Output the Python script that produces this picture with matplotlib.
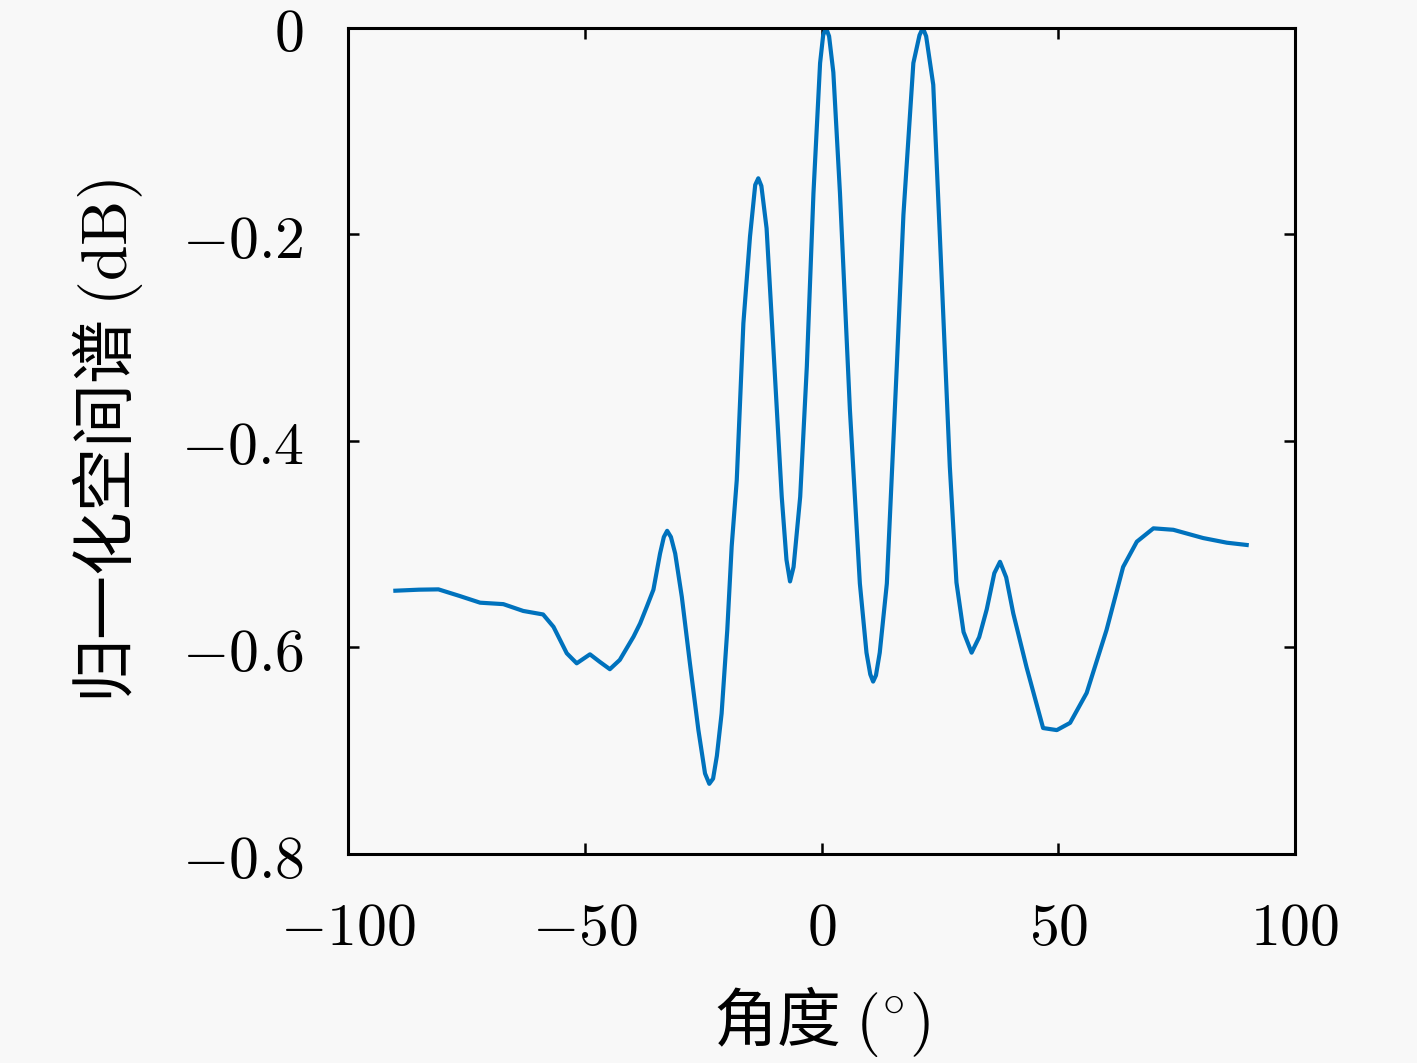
import numpy as np
import matplotlib
matplotlib.use('Agg')
import matplotlib.pyplot as plt
from matplotlib.ticker import FixedLocator, FuncFormatter

plt.rcParams['font.family'] = ['Noto Sans CJK SC', 'DejaVu Sans']
plt.rcParams['mathtext.fontset'] = 'cm'

# ========== 数据 ==========
angle = [-90.0, -85.0, -80.9, -76.5, -72.1, -67.2, -63.0, -58.8, -56.6, -53.8,
         -51.7, -48.9, -46.8, -44.7, -42.6, -39.7, -38.3, -36.9, -35.5, -34.1,
         -33.3, -32.6, -31.8, -30.9, -29.5, -27.8, -26.0, -24.6, -23.7, -22.9,
         -22.1, -21.1, -19.9, -18.97, -17.9, -16.5, -15.1, -14.0, -13.35, -12.7,
         -11.6, -10.2, -8.4, -7.4, -6.65, -5.9, -4.5, -3.1, -1.7, -0.3,
         0.35, 0.95, 1.6, 2.5, 3.9, 6.0, 8.1, 9.5, 10.3, 10.9,
         11.5, 12.3, 13.8, 15.9, 17.3, 19.4, 20.7, 21.4, 22.1, 23.6,
         25.0, 27.1, 28.5, 30.0, 31.7, 33.3, 34.9, 36.5, 37.7, 39.0,
         40.5, 43.3, 46.8, 49.7, 52.5, 56.0, 60.2, 63.7, 66.6, 70.1,
         74.3, 80.6, 85.6, 89.8]
spectrum = [-0.545, -0.544, -0.5437, -0.550, -0.5566, -0.558, -0.5646, -0.568, -0.580, -0.6056,
            -0.6153, -0.6066, -0.614, -0.621, -0.612, -0.5895, -0.5766, -0.5605, -0.544, -0.509,
            -0.493, -0.487, -0.493, -0.509, -0.551, -0.615, -0.680, -0.722, -0.732, -0.727,
            -0.705, -0.664, -0.583, -0.502, -0.438, -0.286, -0.202, -0.152, -0.1456, -0.153,
            -0.194, -0.307, -0.454, -0.515, -0.536, -0.522, -0.454, -0.328, -0.160, -0.034,
            -0.007, 0.0, -0.008, -0.043, -0.160, -0.37, -0.538, -0.605, -0.626, -0.633,
            -0.627, -0.605, -0.538, -0.328, -0.181, -0.034, -0.007, 0.0, -0.008, -0.055,
            -0.202, -0.425, -0.537, -0.585, -0.605, -0.59, -0.563, -0.528, -0.517, -0.532,
            -0.567, -0.619, -0.678, -0.680, -0.673, -0.644, -0.583, -0.522, -0.4975, -0.4846,
            -0.486, -0.494, -0.4985, -0.5007]

xticks = [-100, -50, 0, 50, 100]
yticks = [-0.8, -0.6, -0.4, -0.2, 0]

# ========== 绘图 ==========
bg = '#f8f8f8'
fig = plt.figure(figsize=(14.17, 10.63), dpi=100, facecolor=bg)
ax = fig.add_axes([0.2456, 0.1966, 0.6683, 0.7771], facecolor=bg)

ax.plot(angle, spectrum, color='#0072BD', linewidth=3.0, solid_joinstyle='round')

ax.set_xlim(-100, 100)
ax.set_ylim(-0.8, 0)
ax.xaxis.set_major_locator(FixedLocator(xticks))
ax.yaxis.set_major_locator(FixedLocator(yticks))

def fmt(v, pos):
    s = f'{v:g}'
    if s == '-0':
        s = '0'
    return '$' + s + '$'

ax.xaxis.set_major_formatter(FuncFormatter(fmt))
ax.yaxis.set_major_formatter(FuncFormatter(fmt))

ax.tick_params(direction='in', length=8, width=1.8, top=True, right=True,
               labelsize=43, pad=32)
for sp in ax.spines.values():
    sp.set_linewidth(2.2)

ax.set_xlabel(r'角度 $(^{\circ})$', fontsize=46, labelpad=18)
ax.set_ylabel(r'归一化空间谱 $(\mathrm{dB})$', fontsize=46, labelpad=26)

fig.savefig('out.png', dpi=100, facecolor=bg)
